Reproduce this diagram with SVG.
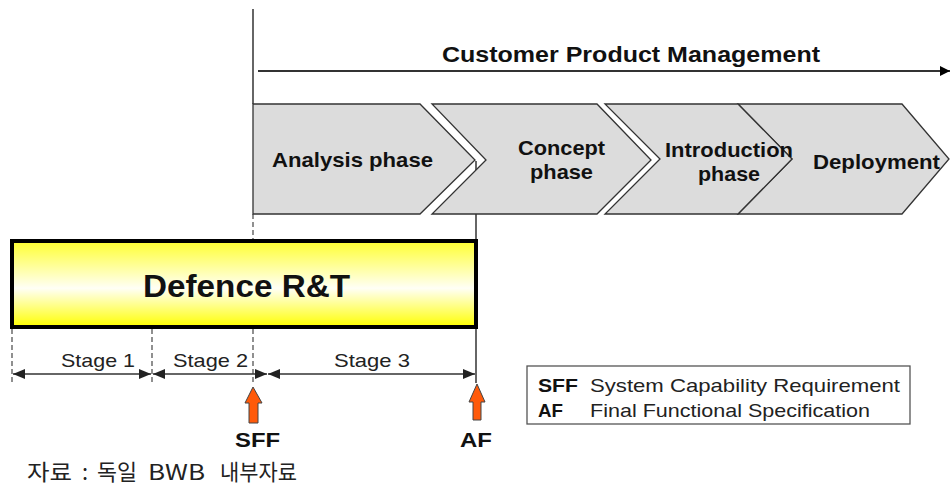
<svg xmlns="http://www.w3.org/2000/svg" width="950" height="486" viewBox="0 0 950 486">
<style>
.b{font-family:"Liberation Sans",Arial,sans-serif;font-weight:bold;fill:#111}
.r{font-family:"Liberation Sans",Arial,sans-serif;fill:#222}
.chev{fill:#dcdcdc;stroke:#333;stroke-width:1.3}
.dash{stroke:#555;stroke-width:1.3;stroke-dasharray:5 3;fill:none}
.ln{stroke:#333;stroke-width:1.5;fill:none}
.dim{stroke:#333;stroke-width:1.6;fill:none;marker-start:url(#ah);marker-end:url(#ah)}
.up{fill:#ff5a0a;stroke:#444;stroke-width:1}
.k{font-family:"Noto Sans CJK KR",sans-serif;fill:#222;font-size:22px}
</style>
<defs>
<marker id="ah" viewBox="0 0 12 10" refX="12" refY="5" markerWidth="12" markerHeight="10" markerUnits="userSpaceOnUse" orient="auto-start-reverse">
<path d="M0,0 L12,5 L0,10 Z" fill="#222"/>
</marker>
<marker id="ah2" viewBox="0 0 10 10" refX="10" refY="5" markerWidth="10" markerHeight="10" markerUnits="userSpaceOnUse" orient="auto">
<path d="M0,0 L10,5 L0,10 Z" fill="#000"/>
</marker>
<linearGradient id="yg" x1="0" y1="0" x2="0" y2="1">
<stop offset="0" stop-color="#ffff30"/>
<stop offset="0.55" stop-color="#fffff6"/>
<stop offset="1" stop-color="#ffff00"/>
</linearGradient>
</defs>

<g id="connectors">
<line class="ln" x1="253" y1="9" x2="253" y2="104"/>
<line class="dash" x1="253" y1="214" x2="253" y2="240"/>
<line class="ln" x1="476" y1="161" x2="476" y2="240"/>
<line class="ln" x1="476" y1="329" x2="476" y2="383"/>
<line x1="258" y1="71" x2="950" y2="71" stroke="#333" stroke-width="1.8" marker-end="url(#ah2)"/>
<line class="dash" x1="12" y1="329" x2="12" y2="384"/>
<line class="dash" x1="152" y1="329" x2="152" y2="384"/>
<line class="dash" x1="253" y1="329" x2="253" y2="384"/>
<line class="dim" x1="13" y1="374" x2="151" y2="374"/>
<line class="dim" x1="153" y1="374" x2="267" y2="374"/>
<line class="dim" x1="268" y1="374" x2="475" y2="374"/>
</g>

<g id="title">
<text class="b" x="442" y="62" font-size="22" textLength="378" lengthAdjust="spacingAndGlyphs">Customer Product Management</text>
</g>

<g id="deployment">
<polygon class="chev" points="738,104 902,104 949,159 902,214 738,214 792,159"/>
<text class="b" x="813" y="169" font-size="21" textLength="127" lengthAdjust="spacingAndGlyphs">Deployment</text>
</g>
<g id="introduction">
<polygon class="chev" points="605,104 738,104 792,159 738,214 605,214 660,159"/>
<text class="b" x="665" y="157" font-size="21" textLength="128" lengthAdjust="spacingAndGlyphs">Introduction</text>
<text class="b" x="698" y="181" font-size="21" textLength="62" lengthAdjust="spacingAndGlyphs">phase</text>
</g>
<g id="concept">
<polygon class="chev" points="432,104 597,104 651,160 597,214 432,214 486,160"/>
<text class="b" x="518" y="155" font-size="21" textLength="87" lengthAdjust="spacingAndGlyphs">Concept</text>
<text class="b" x="530" y="179" font-size="21" textLength="63" lengthAdjust="spacingAndGlyphs">phase</text>
</g>
<g id="analysis">
<polygon class="chev" points="253,104 420,104 475,160 420,214 253,214"/>
<text class="b" x="272" y="167" font-size="21" textLength="161" lengthAdjust="spacingAndGlyphs">Analysis phase</text>
</g>

<g id="defence">
<rect x="12" y="241" width="464" height="86" fill="url(#yg)" stroke="#000" stroke-width="4"/>
<text class="b" x="143" y="297" font-size="32" textLength="207" lengthAdjust="spacingAndGlyphs" fill="#000">Defence R&amp;T</text>
</g>

<g id="stages">
<text class="r" x="61" y="367" font-size="19" textLength="74" lengthAdjust="spacingAndGlyphs">Stage 1</text>
<text class="r" x="173" y="367" font-size="19" textLength="75" lengthAdjust="spacingAndGlyphs">Stage 2</text>
<text class="r" x="334" y="367" font-size="19" textLength="76" lengthAdjust="spacingAndGlyphs">Stage 3</text>
</g>

<g id="sff">
<polygon class="up" points="253,387 262,403 258,403 258,423 249,423 249,403 245,403"/>
<text class="b" x="235" y="447" font-size="21" textLength="45" lengthAdjust="spacingAndGlyphs">SFF</text>
</g>
<g id="af">
<polygon class="up" points="477,384 485,402 481,402 481,420 473,420 473,402 469,402"/>
<text class="b" x="460" y="447" font-size="21" textLength="32" lengthAdjust="spacingAndGlyphs">AF</text>
</g>

<g id="legend">
<rect x="527" y="366" width="383" height="58" fill="#fff" stroke="#555" stroke-width="1.3"/>
<text class="b" x="538" y="392" font-size="19" textLength="40" lengthAdjust="spacingAndGlyphs">SFF</text>
<text class="r" x="590" y="392" font-size="19" textLength="310" lengthAdjust="spacingAndGlyphs">System Capability Requirement</text>
<text class="b" x="538" y="417" font-size="19" textLength="25" lengthAdjust="spacingAndGlyphs">AF</text>
<text class="r" x="590" y="417" font-size="19" textLength="280" lengthAdjust="spacingAndGlyphs">Final Functional Specification</text>
</g>

<g id="source">
<text class="k" y="480"><tspan x="27" textLength="45" lengthAdjust="spacingAndGlyphs">자료</tspan><tspan x="82">:</tspan><tspan x="97" textLength="40" lengthAdjust="spacingAndGlyphs">독일</tspan><tspan x="148" textLength="57" lengthAdjust="spacingAndGlyphs">BWB</tspan><tspan x="220" textLength="77" lengthAdjust="spacingAndGlyphs">내부자료</tspan></text>
</g>
</svg>
